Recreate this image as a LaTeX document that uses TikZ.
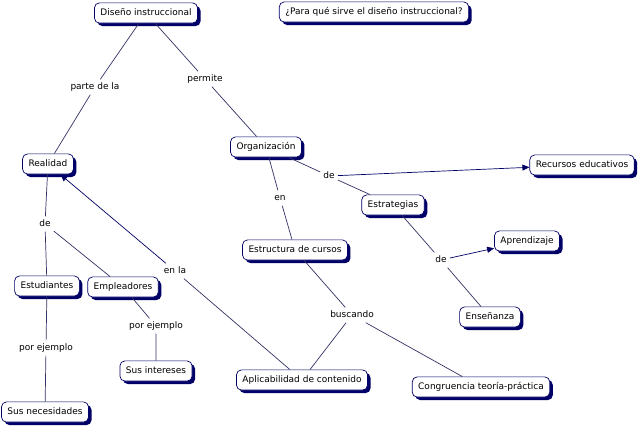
\documentclass[tikz,border=0pt]{standalone}
\usepackage{fontspec}
\setmainfont{DejaVu Sans}
\usetikzlibrary{shadows,arrows.meta}
\definecolor{navy}{RGB}{0,0,102}
\definecolor{lnk}{RGB}{51,51,102}
\begin{document}
\begin{tikzpicture}[x=1pt,y=-1pt,
  concept/.style={draw=navy, line width=0.7pt, fill=white, rounded corners=5pt,
    font=\fontsize{9}{11}\selectfont, text height=7pt, text depth=2pt,
    inner xsep=6pt, inner ysep=5.6pt,
    drop shadow={shadow xshift=3pt, shadow yshift=-3pt, fill=navy, opacity=1}},
  phrase/.style={font=\fontsize{9}{11}\selectfont, text height=7pt, text depth=2pt, inner sep=3pt},
  conn/.style={draw=lnk, line width=0.7pt},
  arr/.style={conn, -{Triangle[length=7pt,width=6pt]}, navy}]
\fill[white] (0,0) rectangle (640,427);
\useasboundingbox (0,0) rectangle (640,427);
% concepts
\node[concept] (dis) at (146,13) {Diseño instruccional};
\node[concept] (para) at (374,12) {¿Para qué sirve el diseño instruccional?};
\node[concept] (real) at (48,164) {Realidad};
\node[concept] (org) at (266,147) {Organización};
\node[concept] (rec) at (582,165) {Recursos educativos};
\node[concept] (est) at (393,205) {Estrategias};
\node[concept] (estr) at (295,250) {Estructura de cursos};
\node[concept] (estu) at (47,286) {Estudiantes};
\node[concept] (emp) at (123,287) {Empleadores};
\node[concept] (int) at (156,371) {Sus intereses};
\node[concept] (nec) at (45,412) {Sus necesidades};
\node[concept] (apl) at (302,380) {Aplicabilidad de contenido};
\node[concept] (apr) at (527,241) {Aprendizaje};
\node[concept] (ens) at (490,317) {Enseñanza};
\node[concept] (cong) at (481,387) {Congruencia teoría-práctica};
% phrases
\node[phrase] (p1) at (95,87) {parte de la};
\node[phrase] (p2) at (205,79) {permite};
\node[phrase] (p3) at (45,224) {de};
\node[phrase] (p4) at (280,198) {en};
\node[phrase] (p5) at (329,176) {de};
\node[phrase] (p6) at (175,271) {en la};
\node[phrase] (p7) at (46,348) {por ejemplo};
\node[phrase] (p8) at (156,326) {por ejemplo};
\node[phrase] (p9) at (352,315) {buscando};
\node[phrase] (p10) at (441,260) {de};
% connectors
\draw[conn] (dis) -- (p1) -- (real);
\draw[conn] (dis) -- (p2) -- (org);
\draw[conn] (org) -- (p5);
\draw[arr] (p5) -- (rec);
\draw[conn] (p5) -- (est);
\draw[conn] (org) -- (p4) -- (estr);
\draw[conn] (real) -- (p3) -- (estu);
\draw[conn] (p3) -- (emp);
\draw[conn] (estu) -- (p7) -- (nec);
\draw[conn] (emp) -- (p8) -- (int);
\draw[conn] (apl) -- (p6);
\draw[arr] (p6) -- (real);
\draw[conn] (estr) -- (p9) -- (apl);
\draw[conn] (p9) -- (cong);
\draw[conn] (est) -- (p10);
\draw[arr] (p10) -- (apr);
\draw[conn] (p10) -- (ens);
\end{tikzpicture}
\end{document}
